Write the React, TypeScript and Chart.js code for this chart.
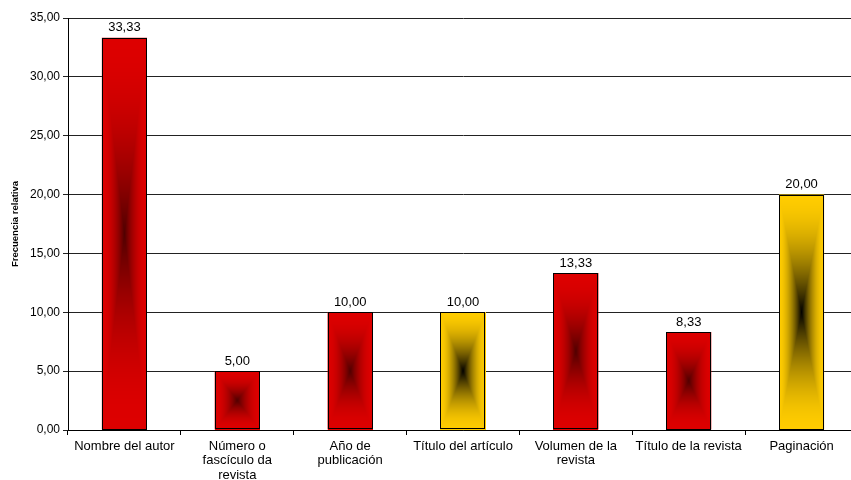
import React, { useEffect, useRef } from 'react';
import { Chart, registerables } from 'chart.js';

Chart.register(...registerables);

const categories: string[][] = [
  ['Nombre del autor'],
  ['Número o', 'fascículo da', 'revista'],
  ['Año de', 'publicación'],
  ['Título del artículo'],
  ['Volumen de la', 'revista'],
  ['Título de la revista'],
  ['Paginación'],
];
const values: number[] = [33.33, 5.0, 10.0, 10.0, 13.33, 8.33, 20.0];
const barKinds: string[] = ['red', 'red', 'red', 'yellow', 'red', 'red', 'yellow'];
const yMin = 0;
const yMax = 35;
const yStep = 5;
const yTitle = 'Frecuencia relativa';

const palettes: Record<string, { edge: number[]; center: number[]; k: number }> = {
  red: { edge: [221, 0, 0], center: [80, 0, 0], k: 2.0 },
  yellow: { edge: [255, 204, 0], center: [0, 0, 0], k: 1.8 },
};

const fmt = (v: number) => v.toFixed(2).replace('.', ',');

const gradientBars = {
  id: 'gradientBars',
  afterDatasetDraw(chart: any, args: any) {
    const ctx = chart.ctx as CanvasRenderingContext2D;
    const meta = args.meta;
    meta.data.forEach((bar: any, i: number) => {
      const p = bar.getProps(['x', 'y', 'base', 'width'], true);
      const l = p.x - p.width / 2;
      const r = p.x + p.width / 2;
      const t = Math.min(p.y, p.base);
      const b = Math.max(p.y, p.base);
      const w = Math.max(1, Math.round(r - l));
      const h = Math.max(1, Math.round(b - t));
      const pal = palettes[barKinds[i]];
      const off = document.createElement('canvas');
      off.width = w;
      off.height = h;
      const octx = off.getContext('2d')!;
      const img = octx.createImageData(w, h);
      const hw = w / 2;
      const hh = h / 2;
      for (let yy = 0; yy < h; yy++) {
        for (let xx = 0; xx < w; xx++) {
          const u = Math.abs(xx + 0.5 - hw) / hw;
          const v = Math.abs(yy + 0.5 - hh) / hh;
          const s = Math.min(1, Math.max(u, v));
          const f = Math.pow(1 - s, pal.k);
          const idx = (yy * w + xx) * 4;
          img.data[idx] = pal.edge[0] + (pal.center[0] - pal.edge[0]) * f;
          img.data[idx + 1] = pal.edge[1] + (pal.center[1] - pal.edge[1]) * f;
          img.data[idx + 2] = pal.edge[2] + (pal.center[2] - pal.edge[2]) * f;
          img.data[idx + 3] = 255;
        }
      }
      octx.putImageData(img, 0, 0);
      ctx.save();
      ctx.drawImage(off, l, t, r - l, b - t);
      ctx.strokeStyle = '#000';
      ctx.lineWidth = 1;
      ctx.strokeRect(Math.round(l) + 0.5, Math.round(t) + 0.5, Math.round(r - l) - 1, Math.round(b - t) - 1);
      ctx.restore();
    });
  },
};

const valueLabels = {
  id: 'valueLabels',
  afterDatasetsDraw(chart: any) {
    const ctx = chart.ctx as CanvasRenderingContext2D;
    const meta = chart.getDatasetMeta(0);
    ctx.save();
    ctx.font = '13px "Liberation Sans", Arial, sans-serif';
    ctx.fillStyle = '#000';
    ctx.textAlign = 'center';
    ctx.textBaseline = 'middle';
    meta.data.forEach((bar: any, i: number) => {
      ctx.fillText(fmt(values[i]), bar.x, bar.y - 10);
    });
    ctx.restore();
  },
};

export default function App() {
  const ref = useRef<HTMLCanvasElement | null>(null);
  useEffect(() => {
    if (!ref.current) return;
    Chart.defaults.font.family = '"Liberation Sans", Arial, sans-serif';
    const chart = new Chart(ref.current, {
      type: 'bar',
      data: {
        labels: categories as any,
        datasets: [
          {
            data: values,
            backgroundColor: barKinds.map((k) => (k === 'red' ? '#DD0000' : '#FFCC00')),
            borderColor: '#000',
            borderWidth: 0,
            categoryPercentage: 1,
            barPercentage: 0.4,
          },
        ],
      },
      options: {
        responsive: false,
        animation: false,
        devicePixelRatio: 1,
        layout: { padding: { top: 18, right: 0, bottom: 0, left: 0 } },
        plugins: { legend: { display: false }, tooltip: { enabled: false } },
        scales: {
          x: {
            grid: { drawOnChartArea: false, drawTicks: true, tickLength: 5, color: '#000', offset: true },
            border: { color: '#000' },
            ticks: {
              color: '#000',
              font: { size: 13, lineHeight: 1.12 },
              maxRotation: 0,
              autoSkip: false,
              padding: 4,
            },
            afterFit: (s: any) => {
              s.height = 50;
            },
          },
          y: {
            min: yMin,
            max: yMax,
            ticks: {
              stepSize: yStep,
              color: '#000',
              font: { size: 12 },
              padding: 3,
              callback: (v: any) => fmt(Number(v)),
            },
            grid: { color: '#222', tickLength: 5 },
            border: { color: '#000' },
            title: {
              display: true,
              text: yTitle,
              color: '#000',
              font: { size: 9.5, weight: 'bold' },
              padding: { top: 10, bottom: 0 },
            },
            afterFit: (s: any) => {
              s.width = 68;
            },
          },
        },
      },
      plugins: [gradientBars, valueLabels],
    });
    return () => chart.destroy();
  }, []);
  return (
    <div style={{ position: 'fixed', left: 0, top: 0, width: 858, height: 480, background: '#fff' }}>
      <canvas ref={ref} width={858} height={480} />
    </div>
  );
}
